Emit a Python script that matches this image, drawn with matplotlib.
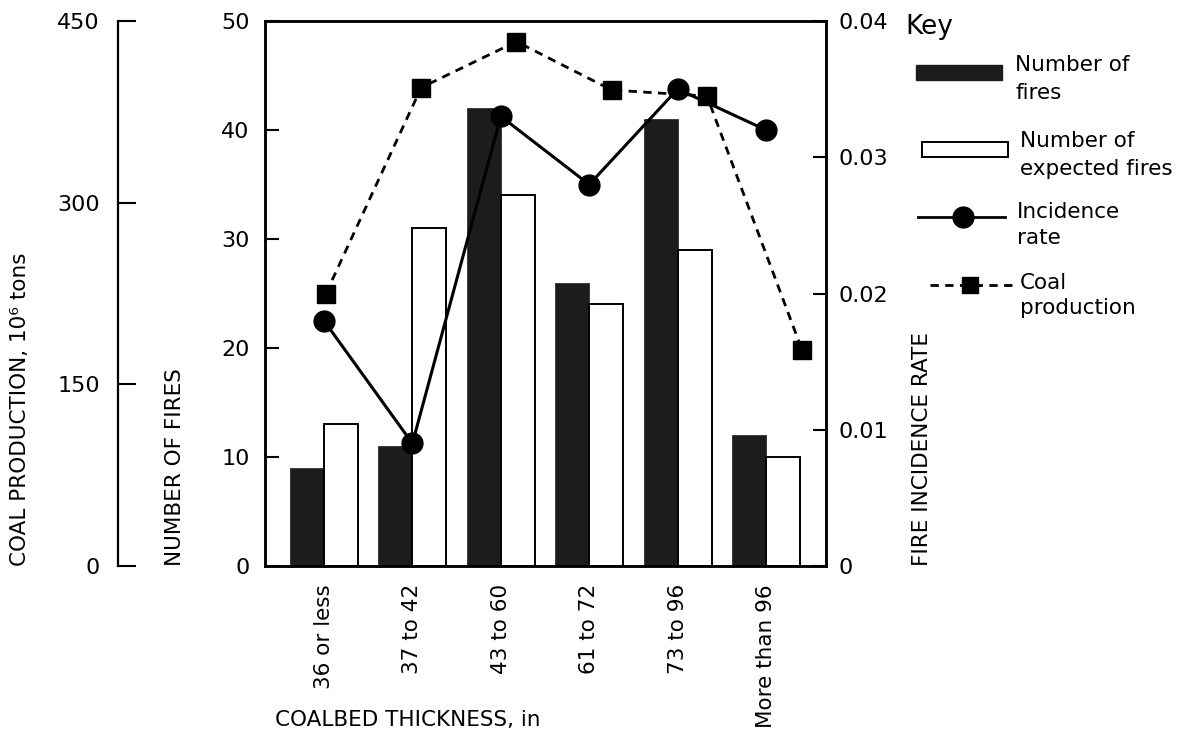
import matplotlib
matplotlib.use("Agg")
import matplotlib.pyplot as plt
from matplotlib.patches import Rectangle
from matplotlib.lines import Line2D
import numpy as np

plt.rcParams['font.family'] = ['DejaVu Sans']

thickness = ['36 or less', '37 to 42', '43 to 60', '61 to 72', '73 to 96', 'More than 96']
fires = [9, 11, 42, 26, 41, 12]
expected_fires = [13, 31, 34, 24, 29, 10]
incidence_rate = [0.018, 0.009, 0.033, 0.028, 0.035, 0.032]
coal_production = [225, 395, 433, 393, 388, 178]

W, H = 1194, 733
fig = plt.figure(figsize=(W / 100, H / 100), dpi=100)
fig.patch.set_facecolor('white')

L, R, T, B = 265, 826, 21, 566
rect = [L / W, 1 - B / H, (R - L) / W, (B - T) / H]
lab_fs = 15.5

ax = fig.add_axes(rect)
x = np.arange(len(thickness))
bw = 0.384
ax.bar(x - bw / 2, fires, bw, color='#1c1c1c', edgecolor='#1c1c1c', linewidth=0.5, zorder=2)
ax.bar(x + bw / 2, expected_fires, bw, color='white', edgecolor='black', linewidth=1.4, zorder=2)
ax.set_xlim(-0.667, 5.678)
ax.set_ylim(0, 50)
ax.set_yticks([0, 10, 20, 30, 40, 50])
ax.set_yticklabels(['0', '10', '20', '30', '40', '50'])
ax.set_xticks(x)
ax.set_xticklabels(thickness, rotation=90, va='top', ha='center')
ax.tick_params(axis='x', length=0, pad=13, labelsize=15.5)
ax.tick_params(axis='y', direction='in', length=10, width=1.5, pad=11, labelsize=16)
for s in ax.spines.values():
    s.set_linewidth(1.8)
ax.set_ylabel('NUMBER OF FIRES', fontsize=lab_fs, loc='bottom')
ax.yaxis.set_label_coords((185 - L) / (R - L), 0)

# incidence rate on the right-hand scale
ax2 = ax.twinx()
ax2.plot(x, incidence_rate, color='black', linewidth=2.2, marker='o', markersize=15, zorder=3)
ax2.set_ylim(0, 0.04)
ax2.set_yticks([0, 0.01, 0.02, 0.03, 0.04])
ax2.set_yticklabels(['0', '0.01', '0.02', '0.03', '0.04'])
ax2.tick_params(axis='y', direction='in', length=9.5, width=1.5, pad=9, labelsize=16)
ax2.set_ylabel('FIRE INCIDENCE RATE', fontsize=lab_fs, loc='bottom')
ax2.yaxis.set_label_coords((912 - L) / (R - L), 0)
for s in ax2.spines.values():
    s.set_linewidth(1.8)

# coal production on the detached far-left scale
ax3 = fig.add_axes(rect)
ax3.patch.set_alpha(0)
ax3.plot(x, coal_production, color='black', linewidth=2, linestyle=(0, (3, 2.3)),
         marker='s', markersize=13, zorder=3)
ax3.set_xlim(-0.64, 5.25)
ax3.set_ylim(0, 450)
for k in ['top', 'right', 'bottom']:
    ax3.spines[k].set_visible(False)
ax3.spines['left'].set_position(('axes', (118 - L) / (R - L)))
ax3.spines['left'].set_linewidth(1.6)
ax3.set_xticks([])
ax3.set_yticks([0, 150, 300, 450])
ax3.set_yticklabels(['0', '150', '300', '450'])
ax3.tick_params(axis='y', direction='in', length=13, width=1.5, pad=13, labelsize=16)
ax3.set_ylabel('COAL PRODUCTION, 10\u2076 tons', fontsize=lab_fs, loc='bottom')
ax3.yaxis.set_label_coords((30 - L) / (R - L), 0)

fig.text(275 / W, 1 - 720 / H, 'COALBED THICKNESS, in', fontsize=lab_fs, va='center', ha='left')

# key, laid out in pixel units
kx = fig.add_axes([0, 0, 1, 1])
kx.set_xlim(0, W)
kx.set_ylim(H, 0)
kx.axis('off')
kx.patch.set_alpha(0)
kx.text(905, 27, 'Key', fontsize=19, va='center', ha='left')

kx.add_patch(Rectangle((916, 65), 86, 15, facecolor='#1c1c1c', edgecolor='#1c1c1c'))
kx.add_patch(Rectangle((922, 142), 86, 15, facecolor='white', edgecolor='black', linewidth=1.4))
kx.add_line(Line2D([918, 1005], [217, 217], color='black', linewidth=2))
kx.add_line(Line2D([963], [217], color='black', marker='o', markersize=15))
kx.add_line(Line2D([930, 1018], [285, 285], color='black', linewidth=2, linestyle=(0, (3, 2.3))))
kx.add_line(Line2D([970], [285], color='black', marker='s', markersize=12))

key_fs = 15.5
key_items = [(1015, 55, 'Number of\nfires', 1.5),
             (1020, 131, 'Number of\nexpected fires', 1.5),
             (1017, 202, 'Incidence\nrate', 1.4),
             (1020, 273, 'Coal\nproduction', 1.3)]
for kx_, ky_, txt, ls in key_items:
    kx.text(kx_, ky_, txt, fontsize=key_fs, va='top', ha='left', linespacing=ls)

fig.savefig('out.png', dpi=100, facecolor='white')
